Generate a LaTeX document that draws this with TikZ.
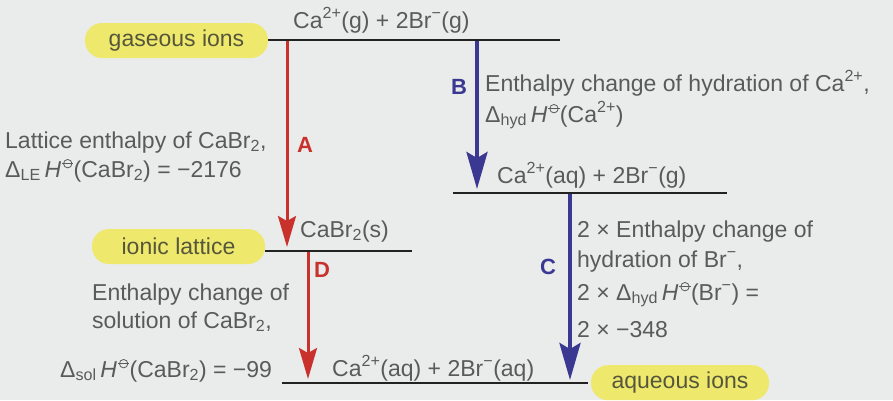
\documentclass[tikz,border=0pt]{standalone}
\usepackage{fontspec}
\setmainfont{Liberation Sans}
\usetikzlibrary{arrows.meta}
\definecolor{bg}{HTML}{E9ECEB}
\definecolor{txt}{HTML}{595B5B}
\definecolor{pillY}{HTML}{EEE96C}
\definecolor{pillT}{HTML}{56563C}
\definecolor{redA}{HTML}{C9312C}
\definecolor{blueB}{HTML}{3B3891}
\definecolor{lvl}{HTML}{222222}
\newcommand{\plim}{\raisebox{0.58em}{\tikz[baseline={(0,0)},x=1pt,y=1pt,line width=0.8pt]{\draw[txt] (0,0) circle (4.2); \draw[txt] (-5.6,0) -- (5.6,0);}}}
\newcommand{\stdH}{\textit{H}\hspace{0.5pt}\plim}
\newcommand{\sups}[1]{\textsuperscript{#1}}
\newcommand{\subs}[1]{\textsubscript{#1}}
\begin{document}
\begin{tikzpicture}[x=1pt,y=-1pt,
  every node/.style={font=\fontsize{23}{28}\selectfont, text=txt, inner sep=0pt},
  txtl/.style={anchor=base west},
  lvlline/.style={draw=lvl, line width=2.4pt},
  pill/.style={fill=pillY, rounded corners=17pt, minimum width=#1, minimum height=35pt, text=pillT},
  redarrow/.style={draw=redA, line width=3pt, -{Stealth[width=18pt,length=31pt,inset=5pt]}},
  bluearrow/.style={draw=blueB, line width=4pt, -{Stealth[width=21pt,length=37pt,inset=6pt]}},
  lbl/.style={anchor=base, font=\fontsize{22}{28}\selectfont\bfseries}
]
\fill[bg] (0,0) rectangle (893,400);
\useasboundingbox (0,0) rectangle (893,400);

% levels
\coordinate (g1) at (268,40);   \coordinate (g2) at (560,40);
\coordinate (l1) at (265,251);  \coordinate (l2) at (412,251);
\coordinate (m1) at (453,193);  \coordinate (m2) at (727,193);
\coordinate (a1) at (282,383);  \coordinate (a2) at (588,383);
\draw[lvlline] (g1) -- (g2);
\draw[lvlline] (l1) -- (l2);
\draw[lvlline] (m1) -- (m2);
\draw[lvlline] (a1) -- (a2);

% pills
\node[pill=183pt] (gas) at (176.5,40.5) {gaseous ions};
\node[pill=173pt] (ion) at (178.5,246.5) {ionic lattice};
\node[pill=178pt, anchor=north] (aq) at (680,365) {\raisebox{-2pt}{aqueous ions}};

% arrow endpoints
\coordinate (As) at (287,41);  \coordinate (Ae) at (287,247);
\coordinate (Ds) at (308,252); \coordinate (De) at (308,379);
\coordinate (Bs) at (477,41);  \coordinate (Be) at (477,189);
\coordinate (Cs) at (570,194); \coordinate (Ce) at (570,380);
\draw[redarrow] (As) -- (Ae);
\draw[redarrow] (Ds) -- (De);
\draw[bluearrow] (Bs) -- (Be);
\draw[bluearrow] (Cs) -- (Ce);

% labels
\node[lbl, text=redA] (A) at (305,152) {A};
\node[lbl, text=redA] (D) at (322,277) {D};
\node[lbl, text=blueB] (B) at (459,94) {B};
\node[lbl, text=blueB] (C) at (548,274) {C};

% species
\node[txtl] (sg) at (293,28) {Ca\sups{2+}(g) + 2Br\sups{−}(g)};
\node[txtl] (sl) at (300,237) {CaBr\subs{2}(s)};
\node[txtl] (sm) at (497,183) {Ca\sups{2+}(aq) + 2Br\sups{−}(g)};
\node[txtl] (sa) at (332,376) {Ca\sups{2+}(aq) + 2Br\sups{−}(aq)};

% texts A
\node[txtl] (tA1) at (5,148) {Lattice enthalpy of CaBr\subs{2},};
\node[txtl] (tA2) at (5,177) {Δ\subs{LE}\,\stdH(CaBr\subs{2}) = −2176};
% texts B
\node[txtl] (tB1) at (485,91) {Enthalpy change of hydration of Ca\sups{2+},};
\node[txtl] (tB2) at (485,122) {Δ\subs{hyd}\,\stdH(Ca\sups{2+})};
% texts C
\node[txtl] (tC1) at (577,237) {2 × Enthalpy change of};
\node[txtl] (tC2) at (577,267) {hydration of Br\sups{−},};
\node[txtl] (tC3) at (577,300) {2 × Δ\subs{hyd}\,\stdH(Br\sups{−}) =};
\node[txtl] (tC4) at (577,337) {2 × −348};
% texts D
\node[txtl] (tD1) at (92,300) {Enthalpy change of};
\node[txtl] (tD2) at (92,328) {solution of CaBr\subs{2},};
\node[txtl] (tD3) at (60,377) {Δ\subs{sol}\,\stdH(CaBr\subs{2}) = −99};
\end{tikzpicture}
\end{document}
